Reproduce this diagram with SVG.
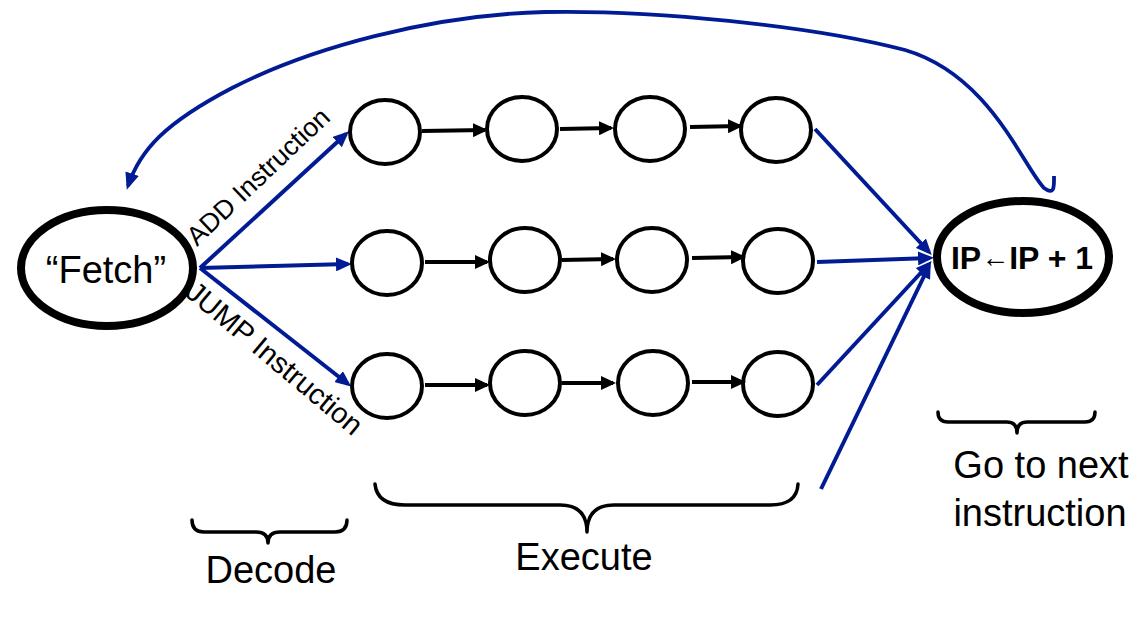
<svg xmlns="http://www.w3.org/2000/svg" width="1145" height="632" viewBox="0 0 1145 632">
<style>
.st{fill:none;stroke:#000;stroke-width:4}
.big{fill:#fff;stroke:#000;stroke-width:8}
.blue{fill:none;stroke:#001b94;stroke-width:4}
.blk{fill:none;stroke:#000;stroke-width:4}
.brace{fill:none;stroke:#000;stroke-width:3.5;stroke-linejoin:round;stroke-linecap:round}
text{font-family:"Liberation Sans",Arial,sans-serif;fill:#000}
</style>
<defs>
<marker id="ab" markerUnits="userSpaceOnUse" markerWidth="16" markerHeight="14" refX="12" refY="7" orient="auto"><path d="M0,0 L16,7 L0,14 z" fill="#001b94"/></marker>
<marker id="ak" markerUnits="userSpaceOnUse" markerWidth="15" markerHeight="14" refX="12" refY="7" orient="auto"><path d="M0,0 L15,7 L0,14 z" fill="#000"/></marker>
<marker id="ac" markerUnits="userSpaceOnUse" markerWidth="17" markerHeight="14" refX="13" refY="7" orient="auto"><path d="M0,0 L17,7 L0,14 z" fill="#001b94"/></marker>
</defs>
<rect width="1145" height="632" fill="#fff"/>
<g id="connectors">
<path class="blue" style="stroke-width:3.8" d="M1054 176 C1054 186 1055 196 1044 188 C1022 165 990 75 905 50 C810 25 650 10 545 12 C430 15 310 48 232 88 C165 123 140 150 128 186" marker-end="url(#ac)"/>
<line class="blue" x1="200" y1="268" x2="346" y2="134" marker-end="url(#ab)"/>
<line class="blue" x1="200" y1="268" x2="348" y2="264" marker-end="url(#ab)"/>
<line class="blue" x1="200" y1="268" x2="348" y2="384" marker-end="url(#ab)"/>
<line class="blk" x1="422" y1="131" x2="485" y2="130" marker-end="url(#ak)"/>
<line class="blk" x1="560" y1="129" x2="611" y2="128" marker-end="url(#ak)"/>
<line class="blk" x1="690" y1="127" x2="740" y2="126" marker-end="url(#ak)"/>
<line class="blk" x1="425" y1="262" x2="487" y2="262" marker-end="url(#ak)"/>
<line class="blk" x1="562" y1="260" x2="613" y2="259" marker-end="url(#ak)"/>
<line class="blk" x1="692" y1="258" x2="743" y2="257" marker-end="url(#ak)"/>
<line class="blk" x1="425" y1="385" x2="487" y2="385" marker-end="url(#ak)"/>
<line class="blk" x1="562" y1="383" x2="613" y2="383" marker-end="url(#ak)"/>
<line class="blk" x1="692" y1="382" x2="743" y2="382" marker-end="url(#ak)"/>
<line class="blue" x1="815" y1="129" x2="929" y2="252" marker-end="url(#ab)"/>
<line class="blue" x1="817" y1="262" x2="930" y2="258" marker-end="url(#ab)"/>
<line class="blue" x1="817" y1="385" x2="929" y2="264" marker-end="url(#ab)"/>
<line class="blue" x1="821" y1="489" x2="929" y2="266" marker-end="url(#ab)"/>
</g>
<g id="fetch"><ellipse class="big" cx="107" cy="268" rx="86" ry="58"/><text x="106" y="283" font-size="38" text-anchor="middle">“Fetch”</text></g>
<g id="ip"><ellipse class="big" cx="1023" cy="257" rx="86" ry="56"/><text x="1022" y="269" font-size="32" font-weight="bold" text-anchor="middle">IP<tspan font-size="28" dy="-2">←</tspan><tspan dy="2">IP + 1</tspan></text></g>
<g id="r1c1"><ellipse class="st" cx="385" cy="132" rx="35" ry="32"/></g>
<g id="r1c2"><ellipse class="st" cx="522" cy="129" rx="35" ry="32"/></g>
<g id="r1c3"><ellipse class="st" cx="650" cy="129" rx="35" ry="32"/></g>
<g id="r1c4"><ellipse class="st" cx="776" cy="130" rx="35" ry="32"/></g>
<g id="r2c1"><ellipse class="st" cx="387" cy="263" rx="35" ry="32"/></g>
<g id="r2c2"><ellipse class="st" cx="525" cy="260" rx="35" ry="32"/></g>
<g id="r2c3"><ellipse class="st" cx="652" cy="260" rx="35" ry="32"/></g>
<g id="r2c4"><ellipse class="st" cx="778" cy="261" rx="35" ry="32"/></g>
<g id="r3c1"><ellipse class="st" cx="387" cy="386" rx="35" ry="32"/></g>
<g id="r3c2"><ellipse class="st" cx="525" cy="383" rx="35" ry="32"/></g>
<g id="r3c3"><ellipse class="st" cx="653" cy="383" rx="35" ry="32"/></g>
<g id="r3c4"><ellipse class="st" cx="778" cy="384" rx="35" ry="32"/></g>
<g id="labels">
<text font-size="26.5" transform="translate(197,247) rotate(-43.5)">ADD Instruction</text>
<text font-size="29" transform="translate(184,295) rotate(40)">JUMP Instruction</text>
</g>
<g id="decode"><path class="brace" d="M192 520 Q192 532 204 532 L256 532 Q268 532 268 543 Q268 532 280 532 L335 532 Q347 532 347 520"/><text x="271" y="583" font-size="38" text-anchor="middle">Decode</text></g>
<g id="execute"><path class="brace" d="M375 484 Q377 505 405 505 L560 505 Q587 505 587 532 Q587 505 614 505 L770 505 Q797 505 798 484"/><text x="584" y="570" font-size="38" text-anchor="middle">Execute</text></g>
<g id="next"><path class="brace" d="M938 412 Q938 422 948 422 L1007 422 Q1017 422 1017 433 Q1017 422 1027 422 L1085 422 Q1095 422 1095 412"/><text x="1041" y="478" font-size="38" text-anchor="middle">Go to next</text><text x="1040" y="526" font-size="38" text-anchor="middle">instruction</text></g>
</svg>
